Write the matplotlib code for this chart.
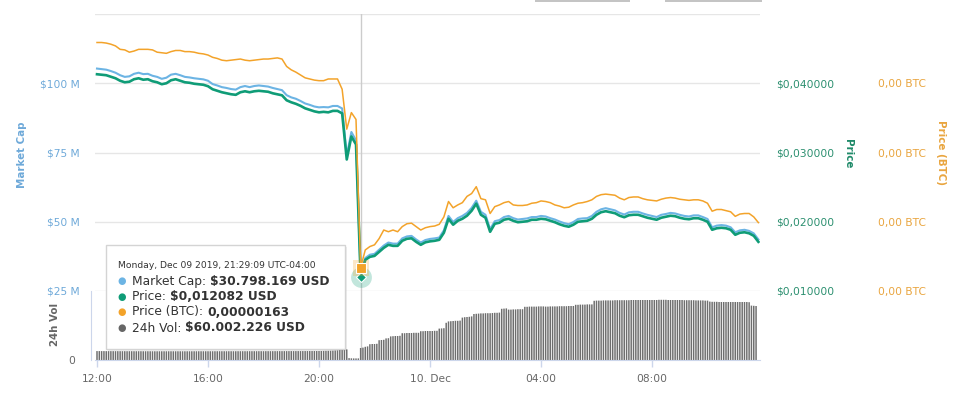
import numpy as np
import pandas as pd
import matplotlib
matplotlib.use("Agg")
import matplotlib.pyplot as plt
from matplotlib.patches import Rectangle

plt.rcParams['font.family'] = ['DejaVu Sans']

# 10-minute samples from Dec 09 2019 12:00
price = [0.04130, 0.04123, 0.04116, 0.04094, 0.04072, 0.04036, 0.04014, 0.04022, 0.04058, 0.04072, 0.04051, 0.04058,
         0.04029, 0.04014, 0.03986, 0.04000, 0.04043, 0.04058, 0.04036, 0.04014, 0.04007, 0.03993, 0.03986, 0.03978,
         0.03957, 0.03913, 0.03891, 0.03870, 0.03855, 0.03841, 0.03833, 0.03870, 0.03884, 0.03870, 0.03884, 0.03891,
         0.03884, 0.03877, 0.03855, 0.03841, 0.03826, 0.03754, 0.03725, 0.03703, 0.03674, 0.03638, 0.03616, 0.03594,
         0.03580, 0.03587, 0.03580, 0.03601, 0.03601, 0.03565, 0.02899, 0.03232, 0.03116, 0.012082, 0.01449, 0.01493,
         0.01507, 0.01565, 0.01623, 0.01667, 0.01652, 0.01652, 0.01725, 0.01754, 0.01761, 0.01710, 0.01667, 0.01703,
         0.01717, 0.01725, 0.01739, 0.01841, 0.02043, 0.01957, 0.02014, 0.02043, 0.02087, 0.02159, 0.02261, 0.02101,
         0.02058, 0.01855, 0.01971, 0.01986, 0.02029, 0.02043, 0.02014, 0.01993, 0.02000, 0.02007, 0.02029, 0.02029,
         0.02043, 0.02036, 0.02014, 0.01993, 0.01964, 0.01942, 0.01928, 0.01957, 0.02000, 0.02007, 0.02014, 0.02043,
         0.02101, 0.02138, 0.02152, 0.02138, 0.02123, 0.02087, 0.02065, 0.02094, 0.02101, 0.02101, 0.02080, 0.02058,
         0.02043, 0.02029, 0.02058, 0.02072, 0.02087, 0.02080, 0.02058, 0.02043, 0.02036, 0.02051, 0.02051, 0.02029,
         0.02000, 0.01884, 0.01906, 0.01913, 0.01906, 0.01884, 0.01812, 0.01841, 0.01848, 0.01833, 0.01797, 0.01710]

# market cap in million USD
mcap = [105.3, 105.1, 104.9, 104.4, 103.8, 102.9, 102.3, 102.5, 103.4, 103.8, 103.3, 103.4,
        102.7, 102.3, 101.6, 102.0, 103.1, 103.4, 102.9, 102.3, 102.1, 101.8, 101.6, 101.4,
        100.9, 99.7, 99.2, 98.6, 98.3, 97.9, 97.7, 98.6, 99.0, 98.6, 99.0, 99.2,
        99.0, 98.8, 98.3, 97.9, 97.5, 95.7, 94.9, 94.4, 93.6, 92.7, 92.2, 91.6,
        91.3, 91.4, 91.3, 91.8, 91.8, 90.9, 73.9, 82.4, 79.4, 30.798, 36.9, 38.1,
        38.4, 39.9, 41.4, 42.5, 42.1, 42.1, 44.0, 44.7, 44.9, 43.6, 42.5, 43.4,
        43.8, 44.0, 44.3, 46.9, 52.1, 49.9, 51.3, 52.1, 53.2, 55.0, 57.6, 53.6,
        52.5, 47.3, 50.2, 50.6, 51.7, 52.1, 51.3, 50.8, 51.0, 51.2, 51.7, 51.7,
        52.1, 51.9, 51.3, 50.8, 50.1, 49.5, 49.1, 49.9, 51.0, 51.2, 51.3, 52.1,
        53.6, 54.5, 54.9, 54.5, 54.1, 53.2, 52.6, 53.4, 53.6, 53.6, 53.0, 52.5,
        52.1, 51.7, 52.5, 52.8, 53.2, 53.0, 52.5, 52.1, 51.9, 52.3, 52.3, 51.7,
        51.0, 48.0, 48.6, 48.8, 48.6, 48.0, 46.2, 46.9, 47.1, 46.7, 45.8, 43.6]

# price in BTC, satoshi
btc_sats = [558, 558, 557, 555, 552, 546, 545, 541, 543, 546, 546, 546,
            545, 541, 540, 539, 542, 544, 544, 542, 542, 541, 539, 538,
            536, 532, 530, 527, 526, 527, 528, 529, 527, 526, 527, 528,
            529, 529, 530, 531, 529, 516, 510, 506, 501, 496, 494, 492,
            491, 491, 494, 494, 494, 476, 406, 435, 423, 163, 194, 200,
            203, 214, 229, 226, 229, 226, 235, 240, 241, 235, 229, 233,
            235, 236, 239, 252, 279, 268, 273, 277, 288, 293, 305, 284,
            282, 258, 270, 273, 277, 279, 273, 272, 272, 273, 276, 277,
            280, 279, 277, 273, 271, 268, 269, 273, 276, 277, 279, 282,
            288, 291, 292, 291, 290, 285, 282, 286, 287, 287, 284, 282,
            281, 280, 283, 285, 286, 285, 283, 282, 281, 282, 282, 280,
            276, 262, 265, 265, 263, 261, 253, 257, 258, 258, 252, 242]

# 24h volume in million USD, 5-minute bars
volume = [44.6, 44.6, 44.5, 44.5, 44.4, 44.4, 44.4, 44.3, 44.3, 44.3, 44.2, 44.2,
          44.2, 44.1, 44.1, 44.1, 44.0, 44.0, 44.0, 44.0, 43.9, 43.9, 43.9, 43.9,
          43.8, 43.8, 43.8, 43.8, 43.8, 43.8, 43.8, 43.8, 43.8, 43.8, 43.8, 43.8,
          43.8, 43.8, 43.8, 43.8, 43.8, 43.8, 43.9, 43.9, 43.9, 43.9, 43.9, 43.9,
          43.9, 43.9, 43.9, 44.0, 44.0, 44.0, 44.0, 44.0, 44.0, 44.0, 44.0, 44.0,
          44.0, 44.1, 44.1, 44.1, 44.1, 44.1, 44.2, 44.2, 44.2, 44.2, 44.2, 44.2,
          44.2, 44.3, 44.3, 44.3, 44.3, 44.4, 44.4, 44.4, 44.4, 44.5, 44.5, 44.5,
          44.6, 44.6, 44.6, 44.7, 44.7, 44.7, 44.8, 44.8, 44.8, 44.9, 44.9, 44.9,
          45.0, 45.2, 45.5, 45.8, 46.0, 46.5, 47.0, 47.8, 48.5, 50.0, 51.5, 52.5,
          53.0, 9.5, 8.5, 8.0, 8.0, 8.0, 60.0, 62.0, 66.0, 68.0, 79.0, 80.0,
          80.0, 81.0, 99.0, 100.0, 101.0, 108.0, 109.0, 118.0, 119.0, 120.0, 120.0, 121.0,
          134.0, 134.0, 135.0, 135.0, 135.0, 136.0, 136.0, 136.0, 144.0, 144.0, 145.0, 145.0,
          145.0, 145.0, 146.0, 146.0, 157.0, 158.0, 159.0, 186.0, 193.0, 194.0, 195.0, 196.0,
          196.0, 197.0, 212.0, 214.0, 215.0, 216.0, 218.0, 230.0, 231.0, 232.0, 233.0, 233.0,
          234.0, 234.0, 234.0, 235.0, 236.0, 236.0, 237.0, 256.0, 257.0, 258.0, 252.0, 252.0,
          253.0, 253.0, 254.0, 254.0, 254.0, 266.0, 266.0, 267.0, 267.0, 267.0, 267.0, 268.0,
          268.0, 268.0, 267.0, 267.0, 268.0, 268.0, 268.0, 268.0, 269.0, 269.0, 269.0, 269.0,
          270.0, 270.0, 270.0, 276.0, 276.0, 277.0, 277.0, 277.0, 278.0, 278.0, 278.0, 296.0,
          297.0, 297.0, 297.0, 298.0, 298.0, 298.0, 298.0, 298.0, 299.0, 299.0, 299.0, 299.0,
          299.0, 299.0, 299.0, 300.0, 300.0, 300.0, 300.0, 300.0, 300.0, 300.0, 300.0, 300.0,
          300.0, 300.0, 300.0, 301.0, 301.0, 301.0, 301.0, 300.0, 300.0, 300.0, 300.0, 300.0,
          300.0, 300.0, 299.0, 299.0, 299.0, 299.0, 299.0, 298.0, 298.0, 298.0, 298.0, 297.0,
          297.0, 292.0, 291.0, 291.0, 291.0, 290.0, 290.0, 290.0, 290.0, 290.0, 290.0, 290.0,
          290.0, 290.0, 290.0, 290.0, 290.0, 290.0, 289.0, 272.0, 271.0, 270.0]

times = pd.date_range("2019-12-09 12:00", periods=len(price), freq="10min")
vol_times = pd.date_range("2019-12-09 12:00", periods=len(volume), freq="5min")
hover = 57  # tooltip point, 21:29

tick_times = pd.to_datetime(["2019-12-09 12:00", "2019-12-09 16:00", "2019-12-09 20:00",
                             "2019-12-10 00:00", "2019-12-10 04:00", "2019-12-10 08:00"])
tick_labels = ["12:00", "16:00", "20:00", "10. Dec", "04:00", "08:00"]

c_mcap = "#6cb4e4"
c_price = "#0f9c77"
c_btc = "#f3a32a"
c_vol = "#6e6e6e"

W, H = 967, 398
fig = plt.figure(figsize=(W / 100, H / 100), dpi=100)


def fx(p):
    return p / W


def fy(p):
    return 1 - p / H


x0 = pd.Timestamp("2019-12-09 11:55:40")
x1 = pd.Timestamp("2019-12-10 11:53:30")
fs_tick = 7.7
fs_title = 7.4

ax = fig.add_axes([fx(95), fy(291), fx(760) - fx(95), fy(14) - fy(291)])
axv = fig.add_axes([fx(95), fy(360), fx(760) - fx(95), fy(291) - fy(360)])

# market cap axis
ax.set_xlim(x0, x1)
ax.set_ylim(25e6, 125e6)
for v in [25e6, 50e6, 75e6, 100e6, 125e6]:
    ax.axhline(v, color="#e6e6e6", lw=1, zorder=0)
ax.set_yticks([25e6, 50e6, 75e6, 100e6])
ax.set_yticklabels(["$25 M", "$50 M", "$75 M", "$100 M"])
ax.tick_params(axis="y", length=0, pad=11, labelsize=fs_tick, labelcolor="#6ea9d9")
ax.set_xticks([])
for s in ax.spines.values():
    s.set_visible(False)
ax.axvline(times[hover], color="#cccccc", lw=1, zorder=1)
ax.plot(times, np.array(mcap) * 1e6, color=c_mcap, lw=1.5, zorder=2)

# price axis
ax_p = ax.twinx()
ax_p.set_xlim(x0, x1)
ax_p.set_ylim(0.01, 0.05)
ax_p.set_yticks([0.01, 0.02, 0.03, 0.04])
ax_p.set_yticklabels(["$" + f"{v:.6f}".replace(".", ",") for v in [0.01, 0.02, 0.03, 0.04]])
ax_p.tick_params(axis="y", length=0, pad=11.5, labelsize=fs_tick, labelcolor="#2b8f6f")
for s in ax_p.spines.values():
    s.set_visible(False)
ax_p.plot(times, price, color=c_price, lw=1.9)
ax_p.plot(times[hover], price[hover], marker="o", ms=15, color=c_price, alpha=0.25, mew=0)
ax_p.plot(times[hover], price[hover], marker="D", ms=5, color=c_price, mec="white", mew=0.8)

# BTC axis
btc = np.array(btc_sats) * 1e-8
ax_b = ax.twinx()
ax_b.set_xlim(x0, x1)
ax_b.set_ylim(1.22e-6, 6.08e-6)
ax_b.set_yticks([1.22e-6, 2.435e-6, 3.65e-6, 4.865e-6])
ax_b.set_yticklabels(["0,00 BTC"] * 4)
ax_b.tick_params(axis="y", length=0, pad=85, labelsize=fs_tick, labelcolor="#e9a53f")
for s in ax_b.spines.values():
    s.set_visible(False)
ax_b.plot(times, btc, color=c_btc, lw=1.1)
ax_b.plot(times[hover], btc[hover], marker="s", ms=11, color=c_btc, alpha=0.25, mew=0)
ax_b.plot(times[hover], btc[hover], marker="s", ms=7, color=c_btc, mec="white", mew=0.8)

# volume panel
bars = axv.bar(vol_times, np.array(volume) * 1e6, width=3.2 / 1440, color=c_vol, linewidth=0, align="center")
for b in bars:
    b.set_snap(False)
axv.axvline(times[hover], color="#cccccc", lw=1, zorder=0)
axv.set_xlim(x0, x1)
axv.set_ylim(0, 345e6)
axv.set_yticks([0])
axv.set_yticklabels(["0"])
axv.set_xticks(tick_times)
axv.set_xticklabels(tick_labels)
axv.tick_params(axis="y", length=0, pad=11, labelsize=fs_tick, labelcolor="#666666")
axv.tick_params(axis="x", length=5, width=1, color="#ccd6eb", pad=5, labelsize=fs_tick, labelcolor="#666666")
axv.spines["top"].set_visible(False)
axv.spines["right"].set_visible(False)
axv.spines["left"].set_color("#ccd6eb")
axv.spines["left"].set_position(("outward", 3))
axv.spines["bottom"].set_color("#ccd6eb")
axv.patch.set_alpha(0)

# axis titles
fig.text(fx(22), fy(155), "Market Cap", rotation=90, ha="center", va="center",
         fontsize=fs_title, fontweight="bold", color="#6ea9d9")
fig.text(fx(55), fy(324), "24h Vol", rotation=90, ha="center", va="center",
         fontsize=fs_title, fontweight="bold", color="#666666")
fig.text(fx(848), fy(154), "Price", rotation=270, ha="center", va="center",
         fontsize=fs_title, fontweight="bold", color="#1f8a69")
fig.text(fx(941), fy(153), "Price (BTC)", rotation=270, ha="center", va="center",
         fontsize=fs_title, fontweight="bold", color="#e9a53f")

# cut-off buttons at the top edge
for a, b in [(535, 630), (665, 762)]:
    fig.add_artist(Rectangle((fx(a), fy(2)), fx(b) - fx(a), fy(0) - fy(2), transform=fig.transFigure,
                             facecolor="#c4c4c4", edgecolor="none", zorder=10))

# tooltip
fig.add_artist(Rectangle((fx(108), fy(351)), fx(347) - fx(108), fy(247) - fy(351), transform=fig.transFigure,
                         facecolor="black", alpha=0.07, edgecolor="none", zorder=10))
fig.add_artist(Rectangle((fx(106), fy(349)), fx(345) - fx(106), fy(245) - fy(349), transform=fig.transFigure,
                         facecolor="white", edgecolor="#d4d4d4", lw=1, zorder=11))
fig.text(fx(118), fy(265), "Monday, Dec 09 2019, 21:29:09 UTC-04:00", fontsize=6.6, color="#333333",
         va="center", zorder=12)

renderer = fig.canvas.get_renderer()
rows = [(c_mcap, "Market Cap: ", "$30.798.169 USD", 281),
        (c_price, "Price: ", "$0,012082 USD", 297),
        (c_btc, "Price (BTC): ", "0,00000163", 312),
        ("#666666", "24h Vol: ", "$60.002.226 USD", 328)]
for col, lab, val, yy in rows:
    fig.text(fx(121.5), fy(yy), "\u25cf", color=col, fontsize=7, ha="center", va="center", zorder=12)
    t = fig.text(fx(132), fy(yy), lab, fontsize=8.8, color="#333333", va="center", zorder=12)
    bb = t.get_window_extent(renderer=renderer)
    fig.text(bb.x1 / W, fy(yy), val, fontsize=8.8, fontweight="bold", color="#333333", va="center", zorder=12)

fig.savefig("out.png", dpi=100)
